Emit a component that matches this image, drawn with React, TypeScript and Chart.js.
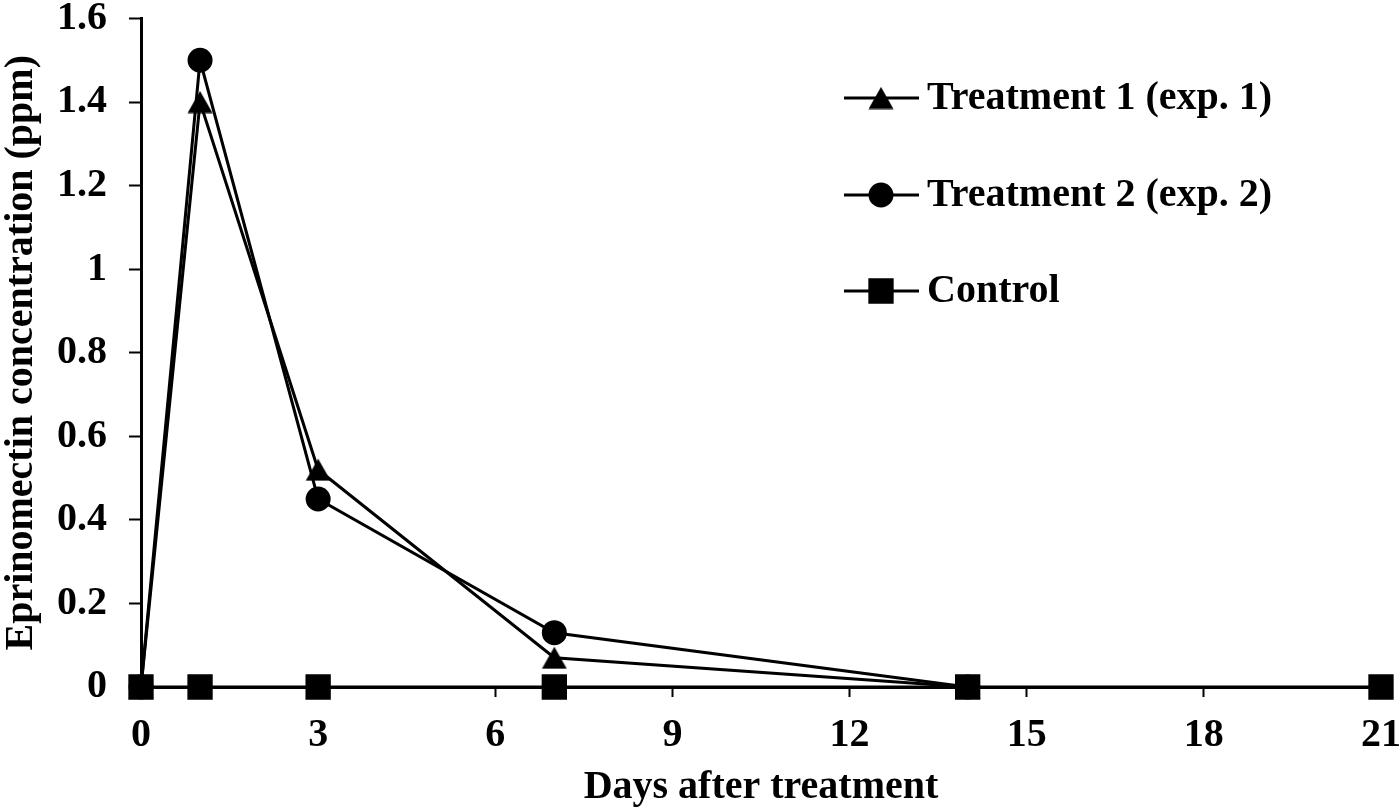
import React, { useEffect, useRef } from "react";
import { Chart, registerables } from "chart.js";
import { drawPoint } from "chart.js/helpers";

Chart.register(...registerables);

const days = [0, 1, 3, 7, 14];
const controlDays = [0, 1, 3, 7, 14, 21];
const treatment1 = [0, 1.4, 0.52, 0.07, 0];
const treatment2 = [0, 1.5, 0.45, 0.13, 0];
const control = [0, 0, 0, 0, 0, 0];
const seriesLabels = ["Treatment 1 (exp. 1)", "Treatment 2 (exp. 2)", "Control"];
const xTicks = [0, 3, 6, 9, 12, 15, 18, 21];
const yTicks = [0, 0.2, 0.4, 0.6, 0.8, 1, 1.2, 1.4, 1.6];
const yTickLabels = ["0", "0.2", "0.4", "0.6", "0.8", "1", "1.2", "1.4", "1.6"];
const xTitle = "Days after treatment";
const yTitle = "Eprinomectin concentration (ppm)";

const FONT = "'Liberation Serif', 'Times New Roman', serif";

function makeTriangle(): HTMLCanvasElement {
  const c = document.createElement("canvas");
  c.width = 26;
  c.height = 23;
  const g = c.getContext("2d")!;
  g.fillStyle = "#000";
  g.beginPath();
  g.moveTo(13, 0.5);
  g.lineTo(25.5, 22.5);
  g.lineTo(0.5, 22.5);
  g.closePath();
  g.fill();
  return c;
}

const legendPlugin = {
  id: "customLegend",
  afterDraw(chart: any) {
    const ctx = chart.ctx;
    const rows = [
      { ds: chart.data.datasets[0], y: 98 },
      { ds: chart.data.datasets[1], y: 195 },
      { ds: chart.data.datasets[2], y: 291 },
    ];
    ctx.save();
    rows.forEach((r) => {
      ctx.strokeStyle = "#000";
      ctx.lineWidth = 3;
      ctx.beginPath();
      ctx.moveTo(844, r.y);
      ctx.lineTo(919, r.y);
      ctx.stroke();
      ctx.fillStyle = "#000";
      ctx.strokeStyle = "#000";
      ctx.lineWidth = 2;
      drawPoint(ctx, { pointStyle: r.ds.pointStyle, radius: r.ds.pointRadius, rotation: 0, borderWidth: 2 }, 881, r.y);
      ctx.fillStyle = "#000";
      ctx.font = `bold 40px ${FONT}`;
      ctx.textAlign = "left";
      ctx.textBaseline = "middle";
      ctx.fillText(r.ds.label, 927, r.y + 1);
    });
    ctx.restore();
  },
};

export default function App() {
  const ref = useRef<HTMLCanvasElement | null>(null);
  useEffect(() => {
    if (!ref.current) return;
    const toXY = (xs: number[], ys: number[]) => xs.map((x, i) => ({ x, y: ys[i] }));
    const common = {
      borderColor: "#000",
      backgroundColor: "#000",
      pointBackgroundColor: "#000",
      pointBorderColor: "#000",
      borderWidth: 3,
      pointBorderWidth: 2,
      tension: 0,
      clip: false as const,
    };
    const chart = new Chart(ref.current, {
      type: "line",
      data: {
        datasets: [
          { ...common, label: seriesLabels[0], data: toXY(days, treatment1), pointStyle: makeTriangle() as any, pointRadius: 13, order: 2 },
          { ...common, label: seriesLabels[1], data: toXY(days, treatment2), pointStyle: "circle", pointRadius: 11.5, order: 1 },
          { ...common, label: seriesLabels[2], data: toXY(controlDays, control), pointStyle: "rect", pointRadius: 16.5, order: 0 },
        ],
      },
      options: {
        animation: false,
        responsive: false,
        devicePixelRatio: 1,
        layout: { padding: 0 },
        plugins: { legend: { display: false }, tooltip: { enabled: false } },
        scales: {
          x: {
            type: "linear",
            min: 0,
            max: 21,
            afterBuildTicks: (s: any) => {
              s.ticks = xTicks.map((v) => ({ value: v }));
            },
            afterFit: (s: any) => {
              s.height = 122;
              s.paddingLeft = 0;
              s.paddingRight = 19;
            },
            ticks: {
              color: "#000",
              font: { family: FONT, size: 40, weight: "bold" },
              padding: 15,
              maxRotation: 0,
              autoSkip: false,
            },
            grid: { drawOnChartArea: false, drawTicks: true, tickLength: 10, tickColor: "#000", tickWidth: 2 },
            border: { display: true, color: "#000", width: 3 },
            title: { display: true, text: xTitle, color: "#000", font: { family: FONT, size: 40, weight: "bold" }, padding: { top: 0, bottom: -3 } },
          },
          y: {
            type: "linear",
            min: 0,
            max: 1.6,
            afterBuildTicks: (s: any) => {
              s.ticks = yTicks.map((v) => ({ value: v }));
            },
            afterFit: (s: any) => {
              s.width = 141;
              s.paddingTop = 16;
              s.paddingBottom = 0;
            },
            ticks: {
              color: "#000",
              font: { family: FONT, size: 40, weight: "bold" },
              padding: 22,
              callback: (_v: any, i: number) => yTickLabels[i],
            },
            grid: { drawOnChartArea: false, drawTicks: true, tickLength: 12, tickColor: "#000", tickWidth: 2 },
            border: { display: true, color: "#000", width: 3 },
            title: { display: true, text: yTitle, color: "#000", font: { family: FONT, size: 40, weight: "bold" }, padding: { top: -2, bottom: 0 } },
          },
        },
      },
      plugins: [legendPlugin],
    });
    return () => chart.destroy();
  }, []);
  return (
    <div style={{ position: "fixed", left: 0, top: 0, width: 1400, height: 809, background: "#fff" }}>
      <canvas ref={ref} width={1400} height={809} />
    </div>
  );
}
